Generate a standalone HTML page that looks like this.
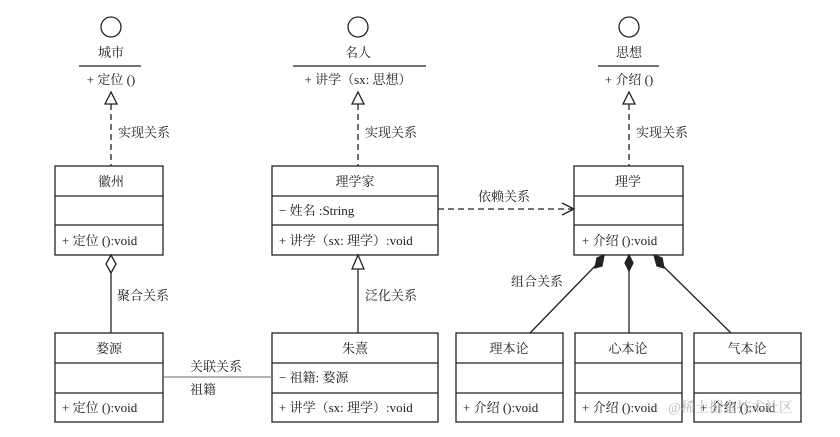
<!DOCTYPE html>
<html><head><meta charset="utf-8"><style>
body{margin:0;background:#fff;}
svg text{font-family:"Liberation Serif","Noto Serif CJK SC","Noto Sans CJK SC",serif;font-size:13px;fill:#222;}
</style></head><body>
<svg width="840" height="432" viewBox="0 0 840 432" xmlns="http://www.w3.org/2000/svg">
<g stroke="#222" stroke-width="1.3" fill="none">
<!-- interfaces -->
<circle cx="111" cy="27" r="10"/><line x1="79" y1="66" x2="141" y2="66"/>
<circle cx="358" cy="27" r="10"/><line x1="293" y1="66" x2="426" y2="66"/>
<circle cx="629" cy="27" r="10"/><line x1="598" y1="66" x2="659" y2="66"/>
<!-- realization -->
<g stroke-dasharray="6,4">
<line x1="111" y1="104" x2="111" y2="166"/>
<line x1="358" y1="104" x2="358" y2="166"/>
<line x1="629" y1="104" x2="629" y2="166"/>
<line x1="438" y1="209" x2="572" y2="209"/>
</g>
<polygon points="111,92 105,104 117,104" fill="#fff"/>
<polygon points="358,92 352,104 364,104" fill="#fff"/>
<polygon points="629,92 623,104 635,104" fill="#fff"/>
<polyline points="562,203 574,209 562,215"/>
<!-- boxes top -->
<rect x="55" y="166" width="108" height="89"/><line x1="55" y1="196" x2="163" y2="196"/><line x1="55" y1="225" x2="163" y2="225"/>
<rect x="272" y="166" width="166" height="89"/><line x1="272" y1="196" x2="438" y2="196"/><line x1="272" y1="225" x2="438" y2="225"/>
<rect x="574" y="166" width="109" height="89"/><line x1="574" y1="196" x2="683" y2="196"/><line x1="574" y1="225" x2="683" y2="225"/>
<!-- boxes bottom -->
<rect x="55" y="333" width="108" height="89"/><line x1="55" y1="363" x2="163" y2="363"/><line x1="55" y1="393" x2="163" y2="393"/>
<rect x="272" y="333" width="166" height="89"/><line x1="272" y1="363" x2="438" y2="363"/><line x1="272" y1="393" x2="438" y2="393"/>
<rect x="456" y="333" width="107" height="89"/><line x1="456" y1="363" x2="563" y2="363"/><line x1="456" y1="393" x2="563" y2="393"/>
<rect x="575" y="333" width="107" height="89"/><line x1="575" y1="363" x2="682" y2="363"/><line x1="575" y1="393" x2="682" y2="393"/>
<rect x="694" y="333" width="107" height="89"/><line x1="694" y1="363" x2="801" y2="363"/><line x1="694" y1="393" x2="801" y2="393"/>
<!-- aggregation -->
<polygon points="111,255 106,264 111,273 116,264" fill="#fff"/><line x1="111" y1="273" x2="111" y2="333"/>
<!-- generalization -->
<polygon points="358,255 352,269 364,269" fill="#fff"/><line x1="358" y1="269" x2="358" y2="333"/>
<!-- association -->
<line x1="163" y1="377" x2="272" y2="377" stroke="#888"/>
<!-- composition -->
<polygon points="604,255 602,266 595,268 597,258" fill="#222"/><line x1="597" y1="264" x2="530" y2="333"/>
<polygon points="629,255 625,263 629,271 633,263" fill="#222"/><line x1="629" y1="271" x2="629" y2="333"/>
<polygon points="654,255 662,258 664,268 657,266" fill="#222"/><line x1="661" y1="264" x2="731" y2="333"/>
</g>
<g text-anchor="middle">
<text x="111" y="57">城市</text><text x="111" y="84">+ 定位 ()</text>
<text x="358" y="57">名人</text><text x="358" y="84">+ 讲学（sx: 思想）</text>
<text x="629" y="57">思想</text><text x="629" y="84">+ 介绍 ()</text>
<text x="111" y="186">徽州</text><text x="355" y="186">理学家</text><text x="628" y="186">理学</text>
<text x="109" y="353">婺源</text><text x="355" y="353">朱熹</text>
<text x="509" y="353">理本论</text><text x="628" y="353">心本论</text><text x="747" y="353">气本论</text>
</g>
<text x="118" y="137">实现关系</text><text x="365" y="137">实现关系</text><text x="636" y="137">实现关系</text>
<text x="478" y="201">依赖关系</text>
<text x="62" y="245">+ 定位 ():void</text>
<text x="279" y="215">− 姓名 :String</text>
<text x="279" y="245">+ 讲学（sx: 理学）:void</text>
<text x="582" y="245">+ 介绍 ():void</text>
<text x="117" y="300">聚合关系</text><text x="365" y="300">泛化关系</text><text x="511" y="286">组合关系</text>
<text x="190" y="371">关联关系</text><text x="190" y="394">祖籍</text>
<text x="279" y="382">− 祖籍: 婺源</text>
<text x="62" y="412">+ 定位 ():void</text>
<text x="279" y="412">+ 讲学（sx: 理学）:void</text>
<text x="463" y="412">+ 介绍 ():void</text>
<text x="582" y="412">+ 介绍 ():void</text>
<text x="700" y="412">+ 介绍 ():void</text>
<text x="668" y="412" style="fill:#aaa;font-size:14px;opacity:0.8">@稀土掘金技术社区</text>
</svg>
</body></html>
